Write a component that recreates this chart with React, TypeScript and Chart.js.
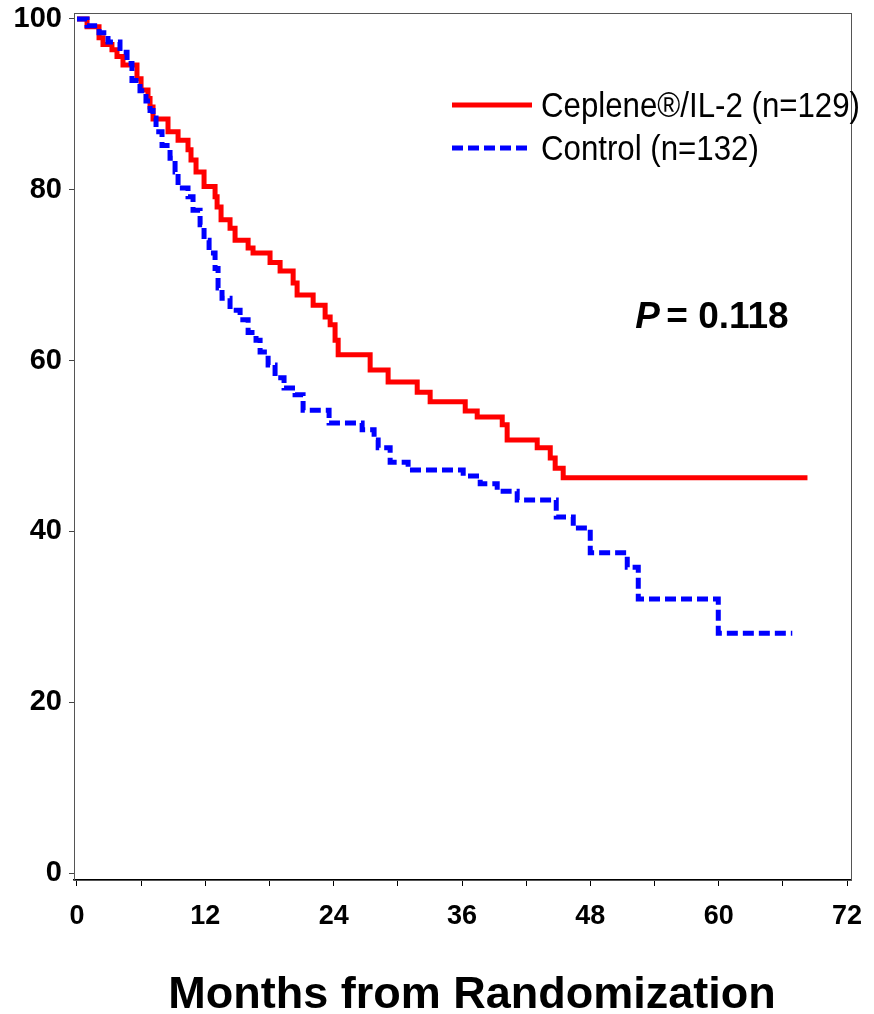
import React, { useEffect, useRef } from "react";
import { Chart, registerables } from "chart.js";

Chart.register(...registerables);

// ---- Data ----
const redLabel = "Ceplene®/IL-2 (n=129)";
const blueLabel = "Control (n=132)";

const redMonths = [
  0, 0.94, 2.06, 2.43, 3.27, 3.74, 4.3, 5.61, 5.99, 6.64, 6.83, 7.11, 8.51, 9.45,
  10.38, 10.66, 11.13, 11.88, 12.91, 13.1, 13.47, 14.31, 14.78, 16.0, 16.46, 18.05,
  18.99, 20.21, 20.58, 22.08, 23.2, 23.67, 24.13, 24.42, 27.41, 29.09, 31.81, 33.02,
  36.3, 37.42, 39.76, 40.22, 43.03, 44.25, 44.71, 45.46, 68.3,
];
const redSurvival = [
  100, 99.1, 97.8, 97.0, 96.4, 95.6, 94.6, 93.0, 91.7, 90.7, 89.7, 88.3, 86.8, 85.8,
  84.7, 83.5, 82.1, 80.4, 79.2, 78.0, 76.5, 75.5, 74.1, 73.2, 72.6, 71.5,
  70.5, 69.1, 67.7, 66.5, 65.1, 64.2, 62.4, 60.7, 58.9, 57.5, 56.3, 55.2,
  54.1, 53.4, 52.5, 50.7, 49.8, 48.6, 47.4, 46.3, 46.3,
];

const blueMonths = [
  0, 0.94, 2.06, 2.9, 4.02, 4.68, 5.14, 5.89, 6.45, 6.83, 7.11, 7.39, 7.95, 8.7,
  9.17, 9.45, 10.38, 10.85, 11.51, 11.88, 12.35, 12.91, 13.19, 13.56, 14.31, 15.25,
  16.0, 16.74, 17.12, 17.87, 18.52, 19.36, 20.39, 21.14, 23.57, 26.66, 27.78, 28.16,
  29.28, 30.96, 36.11, 37.7, 39.29, 41.16, 44.81, 46.4, 47.99, 51.45, 52.48, 59.96,
  66.88,
];
const blueSurvival = [
  100, 99.2, 98.4, 97.3, 96.1, 94.8, 92.8, 91.6, 90.4, 89.3, 88.4, 86.8, 85.2, 83.7,
  82.1, 80.2, 79.2, 77.6, 75.9, 74.1, 72.6, 70.8, 68.5, 67.3, 65.9, 64.8,
  63.3, 62.4, 61.0, 59.5, 58.0, 56.8, 56.0, 54.2, 52.7, 51.9, 50.7, 49.8,
  48.1, 47.2, 46.5, 45.6, 44.7, 43.7, 41.7, 40.4, 37.5, 35.8, 32.1, 28.1,
  28.1,
];

const xTickValues = [0, 6, 12, 18, 24, 30, 36, 42, 48, 54, 60, 66, 72];
const yTickValues = [0, 20, 40, 60, 80, 100];
const xTitle = "Months from Randomization";
const pItalic = "P";
const pRest = " = 0.118";
const pLabelMonth = 52.2;
const pLabelSurvival = 63.8;

const RED = "#ff0000";
const BLUE = "#0000ff";
const SANS = "'Liberation Sans', Arial, Helvetica, sans-serif";
const NARROW = "'Liberation Sans Narrow', 'Arial Narrow', 'Liberation Sans', sans-serif";

const framePlugin = {
  id: "frame",
  beforeDatasetsDraw(chart: any) {
    const { ctx, chartArea } = chart;
    ctx.save();
    ctx.strokeStyle = "#555";
    ctx.lineWidth = 1;
    ctx.strokeRect(
      Math.round(chartArea.left) + 0.5,
      Math.round(chartArea.top) + 0.5,
      Math.round(chartArea.right - chartArea.left),
      Math.round(chartArea.bottom - chartArea.top)
    );
    ctx.restore();
  },
};

const annotationPlugin = {
  id: "annotations",
  afterDraw(chart: any) {
    const { ctx, chartArea, scales } = chart;
    ctx.save();
    // legend
    const lx0 = chartArea.left + 378;
    const lx1 = chartArea.left + 458;
    const tx = chartArea.left + 467;
    const rows = [
      { y: chartArea.top + 92, color: RED, dash: [] as number[], text: redLabel },
      { y: chartArea.top + 135, color: BLUE, dash: [11, 5], text: blueLabel },
    ];
    ctx.font = `35px ${NARROW}`;
    const w0 = ctx.measureText(redLabel).width;
    const sx = Math.min(1.3, 319 / w0);
    for (const r of rows) {
      ctx.beginPath();
      ctx.setLineDash(r.dash);
      ctx.strokeStyle = r.color;
      ctx.lineWidth = 5;
      ctx.lineCap = "butt";
      ctx.moveTo(lx0, r.y);
      ctx.lineTo(lx1, r.y);
      ctx.stroke();
      ctx.setLineDash([]);
      ctx.save();
      ctx.translate(tx, r.y);
      ctx.scale(sx, 1);
      ctx.fillStyle = "#000";
      ctx.textAlign = "left";
      ctx.textBaseline = "middle";
      ctx.fillText(r.text, 0, 2);
      ctx.restore();
    }
    // P value
    const px = scales.x.getPixelForValue(pLabelMonth);
    const py = scales.y.getPixelForValue(pLabelSurvival);
    ctx.fillStyle = "#000";
    ctx.textBaseline = "alphabetic";
    ctx.textAlign = "left";
    ctx.font = `italic bold 37px ${SANS}`;
    ctx.fillText(pItalic, px, py);
    const pw = ctx.measureText(pItalic).width;
    ctx.font = `bold 37px ${SANS}`;
    ctx.fillText(pRest, px + pw - 4, py);
    // x-axis title
    ctx.font = `bold 45px ${SANS}`;
    ctx.textAlign = "center";
    ctx.textBaseline = "alphabetic";
    ctx.fillText(xTitle, chartArea.left + 398, chartArea.bottom + 128);
    ctx.restore();
  },
};

export default function App() {
  const ref = useRef<HTMLCanvasElement | null>(null);
  useEffect(() => {
    if (!ref.current) return;
    const toPts = (xs: number[], ys: number[]) => xs.map((x, i) => ({ x, y: ys[i] }));
    const chart = new Chart(ref.current, {
      type: "line",
      data: {
        datasets: [
          {
            label: redLabel,
            data: toPts(redMonths, redSurvival),
            borderColor: RED,
            backgroundColor: RED,
            borderWidth: 5,
            pointRadius: 0,
            stepped: "before",
            fill: false,
            order: 1,
          },
          {
            label: blueLabel,
            data: toPts(blueMonths, blueSurvival),
            borderColor: BLUE,
            backgroundColor: BLUE,
            borderWidth: 5,
            borderDash: [11, 5],
            pointRadius: 0,
            stepped: "before",
            fill: false,
            order: 0,
          },
        ],
      },
      options: {
        animation: false,
        responsive: false,
        maintainAspectRatio: false,
        layout: { padding: { top: 13, right: 23, bottom: 0, left: 0 } },
        plugins: {
          legend: { display: false },
          tooltip: { enabled: false },
        },
        scales: {
          x: {
            type: "linear",
            min: -0.28,
            max: 72.37,
            afterBuildTicks: (s: any) => {
              s.ticks = xTickValues.map((v) => ({ value: v }));
            },
            afterFit: (s: any) => {
              s.height = 134;
              s.paddingLeft = 0;
              s.paddingRight = 0;
            },
            ticks: {
              autoSkip: false,
              maxRotation: 0,
              padding: 14,
              color: "#000",
              font: { family: SANS, size: 27, weight: "bold" },
              callback: (v: any) => (Number(v) % 12 === 0 ? String(v) : ""),
            },
            grid: {
              display: true,
              drawOnChartArea: false,
              drawTicks: true,
              tickLength: 6,
              color: "#000",
            },
            border: { display: true, color: "#000", width: 1.5 },
            title: { display: false },
          },
          y: {
            type: "linear",
            min: -0.8,
            max: 100.7,
            afterBuildTicks: (s: any) => {
              s.ticks = yTickValues.map((v) => ({ value: v }));
            },
            afterFit: (s: any) => {
              s.width = 74;
              s.paddingTop = 0;
              s.paddingBottom = 0;
            },
            ticks: {
              padding: 7,
              color: "#000",
              font: { family: SANS, size: 29, weight: "bold" },
            },
            grid: {
              display: true,
              drawOnChartArea: false,
              drawTicks: true,
              tickLength: 5,
              color: "#444",
            },
            border: { display: true, color: "#444", width: 1 },
          },
        },
      },
      plugins: [framePlugin, annotationPlugin],
    });
    return () => chart.destroy();
  }, []);
  return (
    <div style={{ position: "absolute", left: 0, top: 0, width: 874, height: 1014, background: "#fff" }}>
      <canvas ref={ref} width={874} height={1014} style={{ display: "block" }} />
    </div>
  );
}
